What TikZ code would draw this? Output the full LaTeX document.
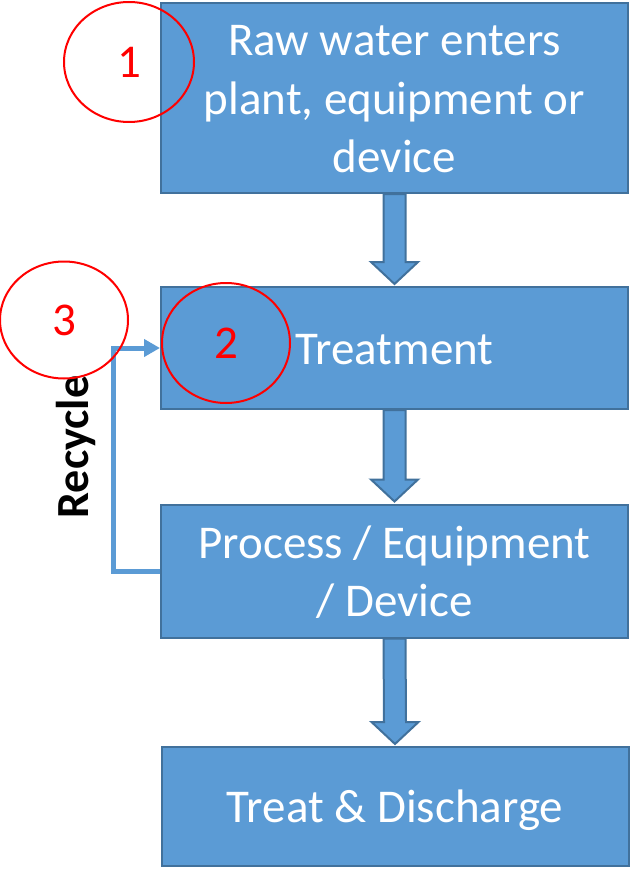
\documentclass[tikz,border=0pt]{standalone}
\usepackage{fontspec}
\setmainfont{Carlito}
\usetikzlibrary{calc,arrows.meta,shapes.geometric}
\definecolor{boxfill}{HTML}{5B9BD5}
\definecolor{boxline}{HTML}{41719C}
\definecolor{mark}{HTML}{FF0000}
\newcommand\lnstrut{\rule[-12pt]{0pt}{56pt}}
\tikzset{
  stepbox/.style={draw=boxline, fill=boxfill, line width=2pt, minimum width=467pt,
    inner sep=0pt, align=center, text=white, font=\fontsize{47}{58}\selectfont},
  barrow/.style={draw=boxline, fill=boxfill, line width=2pt, line join=miter},
  ring/.style={draw=mark, line width=2pt, ellipse, inner sep=0pt},
  ringnum/.style={text=mark, font=\fontsize{47}{57}\selectfont, inner sep=0pt},
  recyc/.style={draw=boxfill, line width=5pt, -{Triangle[length=16pt,width=17pt]}},
}
\newcommand\blkarrow[2]{%
  \draw[barrow] ($(#1.south)+(-11,0)$) -- ($(#2.north)+(-11,-24)$)
    -- ($(#2.north)+(-23.5,-24)$) -- ($(#2.north)+(0,-2)$)
    -- ($(#2.north)+(23.5,-24)$) -- ($(#2.north)+(11,-24)$)
    -- ($(#1.south)+(11,0)$) -- cycle;}
\begin{document}
\begin{tikzpicture}[x=1pt,y=-1pt]
\useasboundingbox (0,0) rectangle (629,869);
% boxes
\node[stepbox, minimum height=190pt] (b1) at (394.5,98) {\lnstrut Raw water enters\\\lnstrut plant, equipment or\\\lnstrut device};
\node[stepbox, minimum height=122pt] (b2) at (394.5,348) {\lnstrut Treatment};
\node[stepbox, minimum height=133pt] (b3) at (394.5,571) {\lnstrut Process / Equipment\\\lnstrut / Device};
\node[stepbox, minimum height=119pt] (b4) at (395,806.5) {\lnstrut Treat \& Discharge};
% block arrows
\blkarrow{b1}{b2}
\blkarrow{b2}{b3}
\blkarrow{b3}{b4}
% recycle
\draw[recyc] (b3.west) -- ++(-47,0) coordinate (rc) |- (b2.west);
\node[rotate=90, font=\fontsize{46}{55}\bfseries\selectfont, inner sep=0pt] (rec) at (76,447) {Recycle};
% numbered rings
\node[ring, minimum width=130pt, minimum height=120pt] (c1) at (129,62) {};
\node[ringnum] (n1) at (c1.center) {1};
\node[ring, minimum width=128pt, minimum height=120pt] (c2) at (226,343) {};
\node[ringnum] (n2) at (c2.center) {2};
\node[ring, minimum width=128pt, minimum height=117pt] (c3) at (64,320) {};
\node[ringnum] (n3) at (c3.center) {3};
\end{tikzpicture}
\end{document}
